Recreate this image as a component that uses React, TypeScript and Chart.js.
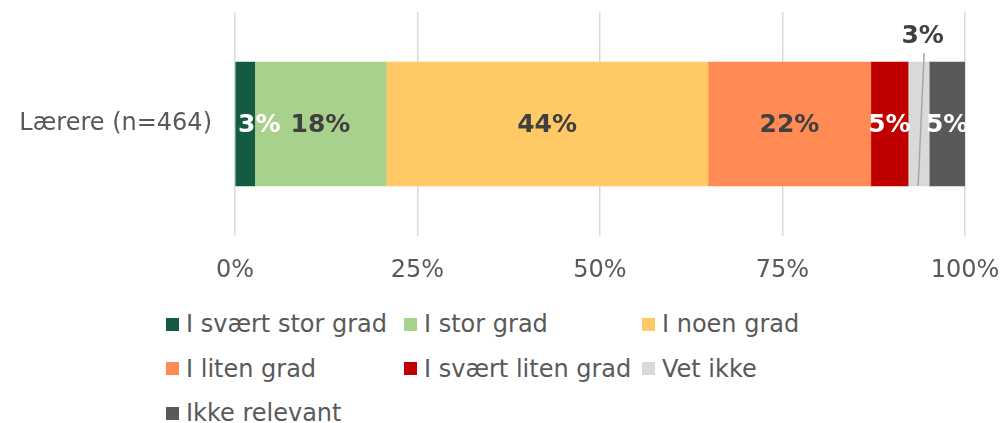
import React, { useEffect, useRef } from "react";
import { Chart, registerables } from "chart.js";

Chart.register(...registerables);

const categories = ["Lærere (n=464)"];
const seriesNames = [
  "I svært stor grad",
  "I stor grad",
  "I noen grad",
  "I liten grad",
  "I svært liten grad",
  "Vet ikke",
  "Ikke relevant",
];
const seriesValues = [2.7, 18.0, 44.1, 22.3, 5.1, 2.9, 4.9];
const valueLabels = ["3%", "18%", "44%", "22%", "5%", "3%", "5%"];
const seriesColors = ["#135C41", "#A9D18E", "#FFC966", "#FF8A54", "#C00000", "#D9D9D9", "#595959"];
const labelColors = ["#FFFFFF", "#404040", "#404040", "#404040", "#FFFFFF", "#404040", "#FFFFFF"];
const labelOutside = [false, false, false, false, false, true, false];
const xTickValues = [0, 25, 50, 75, 100];

const FONT = "'DejaVu Sans', Verdana, sans-serif";
const TEXT_GRAY = "#595959";

const dataLabelPlugin = {
  id: "barDataLabels",
  afterDatasetsDraw(chart: any) {
    const { ctx, chartArea } = chart;
    ctx.save();
    ctx.font = `bold 25px ${FONT}`;
    ctx.textAlign = "center";
    ctx.textBaseline = "middle";
    chart.data.datasets.forEach((_ds: any, i: number) => {
      const el = chart.getDatasetMeta(i).data[0];
      if (!el) return;
      const p = el.getProps(["x", "y", "base", "height"], true);
      const cx = (p.x + p.base) / 2;
      const top = p.y - p.height / 2;
      const bottom = p.y + p.height / 2;
      const text = valueLabels[i];
      if (labelOutside[i]) {
        ctx.strokeStyle = "#A6A6A6";
        ctx.lineWidth = 1.5;
        ctx.beginPath();
        ctx.moveTo(cx - 0.5, bottom);
        ctx.lineTo(cx + 5.5, top - 9);
        ctx.stroke();
        ctx.fillStyle = labelColors[i];
        ctx.fillText(text, cx + 4, top - 26);
      } else {
        const w = ctx.measureText(text).width;
        let lx = cx;
        if (lx - w / 2 < chartArea.left + 3) lx = chartArea.left + 3 + w / 2;
        ctx.save();
        ctx.beginPath();
        ctx.rect(chartArea.left, chartArea.top, chartArea.right - chartArea.left, chartArea.bottom - chartArea.top);
        ctx.clip();
        ctx.fillStyle = labelColors[i];
        ctx.fillText(text, lx, p.y + 1);
        ctx.restore();
      }
    });
    ctx.restore();
  },
};

function ChartCanvas() {
  const ref = useRef<HTMLCanvasElement | null>(null);
  useEffect(() => {
    if (!ref.current) return;
    const chart = new Chart(ref.current, {
      type: "bar",
      data: {
        labels: categories,
        datasets: seriesNames.map((name, i) => ({
          label: name,
          data: [seriesValues[i]],
          backgroundColor: seriesColors[i],
          borderWidth: 0,
          barThickness: 124,
        })),
      },
      options: {
        indexAxis: "y",
        animation: false,
        responsive: false,
        maintainAspectRatio: false,
        layout: { padding: { top: 12, right: 38, left: 0, bottom: 0 } },
        plugins: {
          legend: { display: false },
          tooltip: { enabled: false },
          title: { display: false },
        },
        scales: {
          x: {
            stacked: true,
            min: 0,
            max: 100,
            afterBuildTicks: (scale: any) => {
              scale.ticks = xTickValues.map((v) => ({ value: v }));
            },
            afterFit: (scale: any) => {
              scale.height = 59;
              scale.paddingLeft = 0;
              scale.paddingRight = 0;
            },
            ticks: {
              callback: (v: any) => `${v}%`,
              font: { family: FONT, size: 24 },
              color: TEXT_GRAY,
              padding: 20,
              maxRotation: 0,
              autoSkip: false,
            },
            grid: { color: "#D9D9D9", lineWidth: 1.5, drawTicks: false },
            border: { display: false },
          },
          y: {
            stacked: true,
            afterFit: (scale: any) => {
              scale.width = 235;
              scale.paddingTop = 0;
              scale.paddingBottom = 0;
            },
            ticks: {
              font: { family: FONT, size: 24 },
              color: TEXT_GRAY,
              padding: 23,
            },
            grid: { display: false, drawTicks: false },
            border: { display: false },
          },
        },
      },
      plugins: [dataLabelPlugin],
    } as any);
    return () => chart.destroy();
  }, []);
  return <canvas ref={ref} width={1003} height={295} style={{ display: "block" }} />;
}

export default function App() {
  return (
    <div
      style={{
        position: "absolute",
        left: 0,
        top: 0,
        width: 1003,
        height: 423,
        background: "#FFFFFF",
        overflow: "hidden",
      }}
    >
      <ChartCanvas />
      {seriesNames.map((name, i) => {
        const col = i % 3;
        const row = Math.floor(i / 3);
        return (
          <div
            key={name}
            style={{
              position: "absolute",
              left: 166 + col * 238,
              top: 302 + row * 44.5,
              height: 44,
              display: "flex",
              alignItems: "center",
              whiteSpace: "nowrap",
              fontFamily: FONT,
              fontSize: 24,
              color: TEXT_GRAY,
              lineHeight: "44px",
            }}
          >
            <span
              style={{
                display: "inline-block",
                width: 13,
                height: 13,
                background: seriesColors[i],
                marginRight: 7,
                flex: "none",
              }}
            />
            <span>{name}</span>
          </div>
        );
      })}
    </div>
  );
}
